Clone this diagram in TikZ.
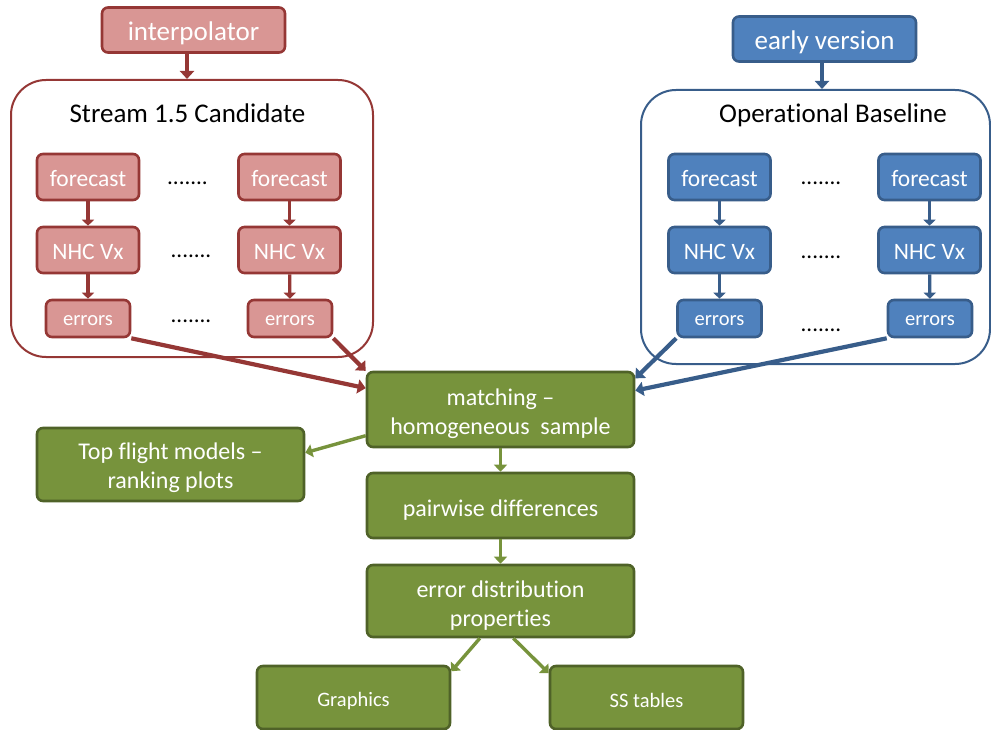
\documentclass[tikz,border=0pt]{standalone}
\usepackage{fontspec}
\setmainfont{Carlito}[Ligatures={TeX,NoCommon}]
\usetikzlibrary{arrows.meta}

\definecolor{redfill}{HTML}{D99694}
\definecolor{redline}{HTML}{953735}
\definecolor{bluefill}{HTML}{4F81BD}
\definecolor{blueline}{HTML}{385D8A}
\definecolor{greenfill}{HTML}{77933C}
\definecolor{greenline}{HTML}{4F6228}

% zero-width strut that lowers the first line of a box text
\newcommand\firstline[1]{\rule{0pt}{#1}}

\tikzset{
  % a zero-width strut at the start of the text pushes it down inside its box
  strut/.style={execute at begin node={\firstline{#1}}},
  box/.style={rounded corners=6pt, line width=2.6pt, text=white, inner sep=0pt, align=center},
  redbox/.style={box, draw=redline, fill=redfill},
  bluebox/.style={box, draw=blueline, fill=bluefill},
  greenbox/.style={box, draw=greenline, fill=greenfill},
  fcsize/.style={minimum width=102pt, minimum height=46pt, font=\fontsize{23.5}{26}\selectfont, strut=18.5pt},
  errsize/.style={minimum width=84pt, minimum height=37pt, font=\fontsize{20.5}{23}\selectfont, strut=13.5pt},
  topsize/.style={minimum width=183pt, minimum height=45pt, font=\fontsize{27}{30}\selectfont, strut=25.5pt},
  wide/.style={minimum width=267pt, font=\fontsize{24}{29}\selectfont},
  bottombox/.style={minimum width=193pt, minimum height=63pt, font=\fontsize{20.5}{23}\selectfont, strut=20.5pt},
  container/.style={rounded corners=35pt, line width=2pt, fill=white, inner sep=0pt},
  title/.style={font=\fontsize{27}{30}\selectfont, text=black, inner sep=0pt},
  dots/.style={font=\fontsize{23}{26}\selectfont, text=black, inner sep=0pt},
  smallred/.style={draw=redline, line width=3.2pt, -{Triangle[length=6pt,width=12pt]}},
  smallblue/.style={draw=blueline, line width=3.2pt, -{Triangle[length=6pt,width=12pt]}},
  redarrow/.style={draw=redline, line width=4.2pt, -{Triangle[length=8pt,width=14pt]}},
  bluearrow/.style={draw=blueline, line width=4.2pt, -{Triangle[length=8pt,width=14pt]}},
  greenarrow/.style={draw=greenfill, line width=3.4pt, -{Triangle[length=7pt,width=13pt]}},
}

\begin{document}
\begin{tikzpicture}[x=1pt, y=-1pt]
\useasboundingbox (0,0) rectangle (991,730);

% ---- candidate stream (red) ----
\node[container, draw=redline, minimum width=362pt, minimum height=277pt] (cand) at (192,218.5) {};
\node[title] (candtitle) at (187.5,113) {Stream 1.5 Candidate};
\node[redbox, topsize] (interp) at (193.5,30) {interpolator};

\node[redbox, fcsize] (fcL) at (88,177) {forecast};
\node[redbox, fcsize] (fcR) at (289.5,177) {forecast};
\node[redbox, fcsize] (vxL) at (88,250) {NHC Vx};
\node[redbox, fcsize] (vxR) at (289.5,250) {NHC Vx};
\node[redbox, errsize] (erL) at (88,318.5) {errors};
\node[redbox, errsize] (erR) at (290,318.5) {errors};
\node[dots] (d1) at (187.5,183) {.......};
\node[dots] (d2) at (191,256.5) {.......};
\node[dots] (d3) at (191,321) {.......};

% ---- operational baseline (blue) ----
\node[container, draw=blueline, minimum width=349pt, minimum height=274pt] (base) at (815.5,227) {};
\node[title] (basetitle) at (833,115) {Operational Baseline};
\node[bluebox, topsize] (early) at (824.5,39) {early version};

\node[bluebox, fcsize] (bfL) at (719.5,177) {forecast};
\node[bluebox, fcsize] (bfR) at (929.5,177) {forecast};
\node[bluebox, fcsize] (bvL) at (719.5,250) {NHC Vx};
\node[bluebox, fcsize] (bvR) at (929.5,250) {NHC Vx};
\node[bluebox, errsize] (beL) at (719.5,318.5) {errors};
\node[bluebox, errsize] (beR) at (930,318.5) {errors};
\node[dots] (d4) at (821,183) {.......};
\node[dots] (d5) at (821,257) {.......};
\node[dots] (d6) at (821,330) {.......};

% ---- analysis chain (green) ----
\node[greenbox, wide, minimum height=75pt] (match) at (500.5,409.5) {\firstline{25pt}matching --\\homogeneous\ \ sample};
\node[greenbox, wide, minimum height=73pt] (top) at (170.5,464.5) {\firstline{24pt}Top flight models --\\ranking plots};
\node[greenbox, wide, minimum height=65pt, strut=25pt] (pair) at (500.5,505.5) {pairwise differences};
\node[greenbox, wide, minimum height=72pt] (dist) at (500.5,601) {\firstline{25pt}error distribution\\properties};
\node[greenbox, bottombox] (graph) at (353.5,697.5) {Graphics};
\node[greenbox, bottombox] (ss) at (646.5,697.5) {SS tables};

% ---- connectors ----
\draw[redarrow] (interp.south -| 187,0) -- (cand.north -| 187,0);
\draw[smallred] (fcL) -- (vxL);
\draw[smallred] (fcR) -- (vxR);
\draw[smallred] (vxL) -- (erL);
\draw[smallred] (vxR) -- (erR);
\draw[redarrow] (erL.south east) -- (match.171.7);
\draw[redarrow] (erR.south east) -- (match.164);

\draw[bluearrow] (early.south -| 822,0) -- (base.north -| 822,0);
\draw[smallblue] (bfL) -- (bvL);
\draw[smallblue] (bfR) -- (bvR);
\draw[smallblue] (bvL) -- (beL);
\draw[smallblue] (bvR) -- (beR);
\draw[bluearrow] (beL.south west) -- (match.13);
\draw[bluearrow] (beR.south west) -- (match.8);

\draw[greenarrow] (match.191) -- (top.5);
\draw[greenarrow] (match) -- (pair);
\draw[greenarrow] (pair) -- (dist);
\draw[greenarrow] (dist.241.6) -- (graph.15);
\draw[greenarrow] (dist.289) -- (ss.166);
\end{tikzpicture}
\end{document}
